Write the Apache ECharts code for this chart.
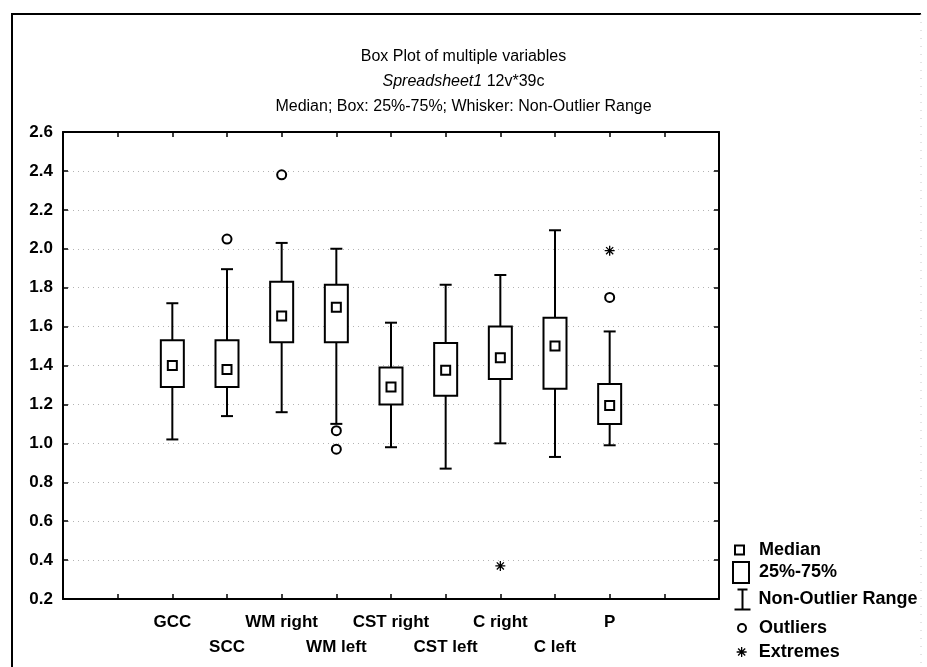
<!DOCTYPE html>
<html>
<head>
<meta charset="utf-8">
<script src="https://cdn.jsdelivr.net/npm/echarts@6/dist/echarts.min.js"></script>
<style>
  html, body { margin: 0; padding: 0; background: #fff; }
  #chart { width: 927px; height: 667px; }
</style>
</head>
<body>
<div id="chart"></div>
<script>
// box plot values
const variables = ['GCC', 'SCC', 'WM right', 'WM left', 'CST right', 'CST left', 'C right', 'C left', 'P'];
const whiskerLow  = [1.02, 1.14, 1.16, 1.10, 0.98, 0.87, 1.00, 0.93, 0.99];
const q1          = [1.29, 1.29, 1.52, 1.52, 1.20, 1.245, 1.33, 1.28, 1.10];
const medians     = [1.40, 1.38, 1.655, 1.70, 1.29, 1.375, 1.44, 1.50, 1.195];
const q3          = [1.53, 1.53, 1.83, 1.815, 1.39, 1.515, 1.60, 1.645, 1.305];
const whiskerHigh = [1.72, 1.895, 2.03, 2.00, 1.62, 1.815, 1.865, 2.095, 1.575];
const outliers = [['SCC', 2.05], ['WM right', 2.38], ['WM left', 1.065], ['WM left', 0.97], ['P', 1.75]];
const extremes = [['C right', 0.37], ['P', 1.99]];

const firstSlot = 2;   // variables sit on slots 2..10 of a 0..12 axis
const slotCount = 12;
const slotOf = name => variables.indexOf(name) + firstSlot;

const font = 'Liberation Sans, Arial, sans-serif';
const black = '#000';
const asterisk = 'path://M0,4.5L9,4.5M4.5,0L4.5,9M1.3,1.3L7.7,7.7M7.7,1.3L1.3,7.7';

const chart = echarts.init(document.getElementById('chart'));

const whiskerData = variables.map((v, i) => [i + firstSlot, whiskerLow[i], whiskerHigh[i]]);
const boxData = variables.map((v, i) => [i + firstSlot, q1[i], q3[i]]);
const medianData = variables.map((v, i) => [i + firstSlot, medians[i]]);

const lineStyle = { stroke: black, lineWidth: 2 };

function legendFor(name, left, top, w, h, icon, style, pad) {
  return {
    data: [{ name: name, icon: icon, itemStyle: style }],
    left: left, top: top, padding: 0,
    itemWidth: w, itemHeight: h,
    selectedMode: false,
    textStyle: { fontFamily: font, fontSize: 18, fontWeight: 'bold', color: black, padding: [0, 0, 0, pad] }
  };
}

const option = {
  backgroundColor: '#fff',
  animation: false,
  textStyle: { fontFamily: font },
  title: [
    { text: 'Box Plot of multiple variables', left: 'center', top: 49, padding: 0,
      textStyle: { fontFamily: font, fontSize: 16, fontWeight: 'normal', color: black } },
    { text: '{i|Spreadsheet1} 12v*39c', left: 'center', top: 74, padding: 0,
      textStyle: { fontFamily: font, fontSize: 16, fontWeight: 'normal', color: black,
        rich: { i: { fontFamily: font, fontSize: 16, fontStyle: 'italic', color: black } } } },
    { text: 'Median; Box: 25%-75%; Whisker: Non-Outlier Range', left: 'center', top: 99, padding: 0,
      textStyle: { fontFamily: font, fontSize: 16, fontWeight: 'normal', color: black } }
  ],
  graphic: [
    { type: 'polyline', shape: { points: [[921, 14], [12, 14], [12, 667]] },
      style: { stroke: black, lineWidth: 2, fill: null }, silent: true },
    { type: 'line', shape: { x1: 921, y1: 14, x2: 921, y2: 667 },
      style: { stroke: '#c8c8c8', lineWidth: 1, lineDash: [1, 7] }, silent: true }
  ],
  legend: [
    legendFor('Median', 734, 541, 9, 9, 'rect', { color: '#fff', borderColor: black, borderWidth: 2 }, 10),
    legendFor('25%-75%', 732, 561, 16, 21, 'rect', { color: '#fff', borderColor: black, borderWidth: 2 }, 5),
    legendFor('Non-Outlier Range', 732, 587, 16, 21, 'path://M3,0L13,0M8,0L8,20M0,20L16,20',
      { color: 'none', borderColor: black, borderWidth: 2 }, 3),
    legendFor('Outliers', 737, 619, 8, 8, 'circle', { color: '#fff', borderColor: black, borderWidth: 2 }, 8),
    legendFor('Extremes', 736, 643, 10, 10, asterisk, { color: black, borderColor: black, borderWidth: 1.3 }, 7)
  ],
  grid: { left: 63, right: 208, top: 132, bottom: 68 },
  xAxis: [
    {
      type: 'value', min: 0, max: slotCount, interval: 1, position: 'bottom',
      axisLine: { show: true, onZero: false, lineStyle: { color: black, width: 2 } },
      axisTick: { show: true, inside: true, length: 5, lineStyle: { color: black, width: 1.5 } },
      splitLine: { show: false },
      axisLabel: {
        show: true, margin: 11, lineHeight: 25, fontSize: 17, fontWeight: 'bold', color: black, fontFamily: font,
        formatter: v => {
          const j = v - firstSlot;
          if (j < 0 || j >= variables.length) return '';
          return (j % 2 === 1 ? '\n' : '') + variables[j];
        }
      }
    },
    {
      type: 'value', min: 0, max: slotCount, interval: 1, position: 'top',
      axisLine: { show: true, onZero: false, lineStyle: { color: black, width: 2 } },
      axisTick: { show: true, inside: true, length: 5, lineStyle: { color: black, width: 1.5 } },
      splitLine: { show: false },
      axisLabel: { show: false }
    }
  ],
  yAxis: [
    {
      type: 'value', min: 0.2, max: 2.6, interval: 0.2, position: 'left',
      axisLine: { show: true, onZero: false, lineStyle: { color: black, width: 2 } },
      axisTick: { show: true, inside: true, length: 5, lineStyle: { color: black, width: 1.5 } },
      splitLine: { show: true, lineStyle: { color: '#b4b4b4', width: 1, type: [1, 4] } },
      axisLabel: { margin: 10, fontSize: 17, fontWeight: 'bold', color: black, fontFamily: font,
        formatter: v => v.toFixed(1) }
    },
    {
      type: 'value', min: 0.2, max: 2.6, interval: 0.2, position: 'right',
      axisLine: { show: true, onZero: false, lineStyle: { color: black, width: 2 } },
      axisTick: { show: true, inside: true, length: 5, lineStyle: { color: black, width: 1.5 } },
      splitLine: { show: false },
      axisLabel: { show: false }
    }
  ],
  series: [
    {
      name: 'Non-Outlier Range',
      type: 'custom',
      data: whiskerData,
      encode: { x: 0, y: [1, 2] },
      renderItem: (params, api) => {
        const x = api.value(0);
        const lo = api.coord([x, api.value(1)]);
        const hi = api.coord([x, api.value(2)]);
        const half = 6;
        return {
          type: 'group',
          children: [
            { type: 'line', shape: { x1: lo[0], y1: lo[1], x2: hi[0], y2: hi[1] }, style: lineStyle },
            { type: 'line', shape: { x1: lo[0] - half, y1: lo[1], x2: lo[0] + half, y2: lo[1] }, style: lineStyle },
            { type: 'line', shape: { x1: hi[0] - half, y1: hi[1], x2: hi[0] + half, y2: hi[1] }, style: lineStyle }
          ]
        };
      }
    },
    {
      name: '25%-75%',
      type: 'custom',
      data: boxData,
      encode: { x: 0, y: [1, 2] },
      renderItem: (params, api) => {
        const x = api.value(0);
        const lo = api.coord([x, api.value(1)]);
        const hi = api.coord([x, api.value(2)]);
        const w = 23;
        return {
          type: 'rect',
          shape: { x: lo[0] - w / 2, y: hi[1], width: w, height: lo[1] - hi[1] },
          style: { fill: '#fff', stroke: black, lineWidth: 2 }
        };
      }
    },
    {
      name: 'Median',
      type: 'scatter',
      data: medianData,
      symbol: 'rect',
      symbolSize: 9,
      itemStyle: { color: '#fff', borderColor: black, borderWidth: 2, opacity: 1 }
    },
    {
      name: 'Outliers',
      type: 'scatter',
      data: outliers.map(d => [slotOf(d[0]), d[1]]),
      symbol: 'circle',
      symbolSize: 9,
      itemStyle: { color: '#fff', borderColor: black, borderWidth: 2, opacity: 1 }
    },
    {
      name: 'Extremes',
      type: 'scatter',
      data: extremes.map(d => [slotOf(d[0]), d[1]]),
      symbol: asterisk,
      symbolSize: 10,
      itemStyle: { color: black, borderColor: black, borderWidth: 1.3, opacity: 1 }
    }
  ]
};

chart.setOption(option);
</script>
</body>
</html>
